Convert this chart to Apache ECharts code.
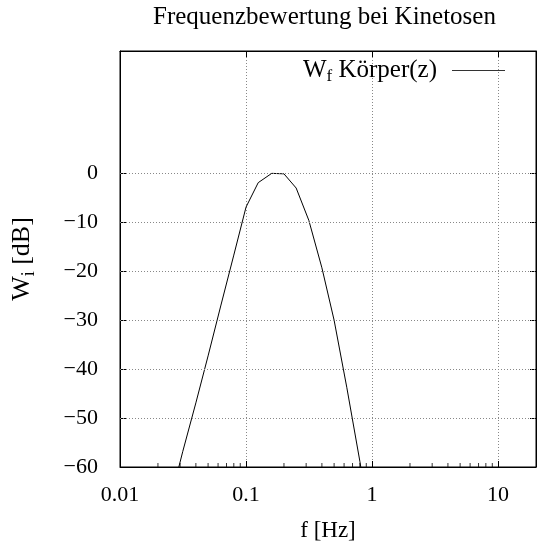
<!DOCTYPE html>
<html>
<head>
<meta charset="utf-8">
<script src="https://cdn.jsdelivr.net/npm/echarts@6/dist/echarts.min.js"></script>
<style>
html, body { margin: 0; background: #fff; }
#chart { width: 542px; height: 551px; }
</style>
</head>
<body>
<div id="chart"></div>
<script>
// Frequenzbewertung Wf (Kinetose), Terzfrequenzen
var freqHz = [0.025, 0.0315, 0.04, 0.05, 0.063, 0.08, 0.1, 0.125, 0.16, 0.2, 0.25, 0.315, 0.4, 0.5, 0.63, 0.8, 1.0];
var weightDb = [-67, -56.8, -46.9, -37.3, -27.1, -16.7, -6.9, -1.9, 0, -0.1, -3.0, -9.6, -19.3, -30, -43.7, -58.8, -74];

var yTickValues = [-60, -50, -40, -30, -20, -10, 0];
var yGridValues = [-50, -40, -30, -20, -10, 0];
var xMinorTicks = [0.02, 0.03, 0.04, 0.05, 0.06, 0.07, 0.08, 0.09,
                   0.2, 0.3, 0.4, 0.5, 0.6, 0.7, 0.8, 0.9,
                   2, 3, 4, 5, 6, 7, 8, 9];

var serif = 'Liberation Serif';
var dotted = { color: '#888', width: 1, type: [1, 2] };

var chart = echarts.init(document.getElementById('chart'));

var option = {
  animation: false,
  title: {
    text: 'Frequenzbewertung bei Kinetosen',
    left: 148,
    top: 0,
    textStyle: { fontFamily: serif, fontSize: 25, fontWeight: 'normal', color: '#000' }
  },
  legend: {
    data: [{ name: 'Wf Körper(z)', icon: 'rect' }],
    right: 37,
    top: 58,
    padding: 0,
    align: 'right',
    itemWidth: 53,
    itemHeight: 1,
    itemStyle: { color: '#333' },
    formatter: function () { return '{w|W}{s|f}{w| Körper(z)}'; },
    textStyle: {
      fontFamily: serif, fontSize: 25, color: '#000', padding: [0, 10, 0, 0],
      rich: {
        w: { fontFamily: serif, fontSize: 25, color: '#000' },
        s: { fontFamily: serif, fontSize: 17, color: '#000', padding: [12, 0, 0, 0] }
      }
    }
  },
  grid: {
    left: 120, right: 6, top: 51, bottom: 84,
    show: true, borderColor: '#000', borderWidth: 1
  },
  xAxis: [{
    type: 'log',
    logBase: 10,
    min: 0.01,
    max: 20,
    position: 'bottom',
    name: 'f [Hz]',
    nameLocation: 'middle',
    nameGap: 52,
    nameTextStyle: { fontFamily: serif, fontSize: 23, color: '#000' },
    axisLine: { onZero: false, lineStyle: { color: '#000', width: 1 } },
    axisTick: { inside: true, length: 6, lineStyle: { color: '#000' } },
    axisLabel: {
      fontFamily: serif, fontSize: 22, color: '#000', margin: 17,
      showMaxLabel: false,
      formatter: function (v) { return String(v); }
    },
    splitLine: { show: true, lineStyle: dotted }
  }, {
    type: 'log',
    logBase: 10,
    min: 0.01,
    max: 20,
    position: 'top',
    axisLine: { onZero: false, lineStyle: { color: '#000', width: 1 } },
    axisTick: { inside: true, length: 6, lineStyle: { color: '#000' } },
    axisLabel: { show: false },
    splitLine: { show: false }
  }],
  yAxis: [{
    type: 'value',
    min: -60,
    max: 25,
    interval: 10,
    position: 'left',
    name: '{w|W}{s|i}{w| [dB]}',
    nameLocation: 'middle',
    nameRotate: 90,
    nameGap: 82,
    nameTextStyle: {
      rich: {
        w: { fontFamily: serif, fontSize: 26, color: '#000' },
        s: { fontFamily: serif, fontSize: 18, color: '#000', padding: [14, 0, 0, 0] }
      }
    },
    axisLine: { onZero: false, lineStyle: { color: '#000', width: 1 } },
    axisTick: { inside: true, length: 6, customValues: yTickValues, lineStyle: { color: '#000' } },
    axisLabel: {
      customValues: yTickValues,
      fontFamily: serif, fontSize: 22, color: '#000', margin: 22,
      formatter: function (v) { return v < 0 ? '\u2212' + (-v) : String(v); }
    },
    splitLine: { show: false }
  }, {
    type: 'value',
    min: -60,
    max: 25,
    interval: 10,
    position: 'right',
    axisLine: { show: true, onZero: false, lineStyle: { color: '#000', width: 1 } },
    axisTick: { show: true, inside: true, length: 6, customValues: yTickValues, lineStyle: { color: '#000' } },
    axisLabel: { show: false },
    splitLine: { show: false }
  }],
  series: [{
    name: 'Wf Körper(z)',
    type: 'line',
    xAxisIndex: 0,
    yAxisIndex: 0,
    data: freqHz.map(function (f, i) { return [f, weightDb[i]]; }),
    showSymbol: false,
    symbol: 'none',
    clip: true,
    color: '#000',
    lineStyle: { color: '#000', width: 1 },
    markLine: {
      silent: true,
      symbol: 'none',
      label: { show: false },
      lineStyle: dotted,
      data: yGridValues.map(function (v) { return { yAxis: v }; })
    }
  }, {
    name: 'minor',
    type: 'scatter',
    xAxisIndex: 0,
    yAxisIndex: 0,
    silent: true,
    clip: false,
    symbol: 'rect',
    symbolSize: [1, 4],
    symbolOffset: [0, -2],
    itemStyle: { color: '#000' },
    data: xMinorTicks.map(function (f) { return [f, -60]; })
  }]
};

chart.setOption(option);
</script>
</body>
</html>
